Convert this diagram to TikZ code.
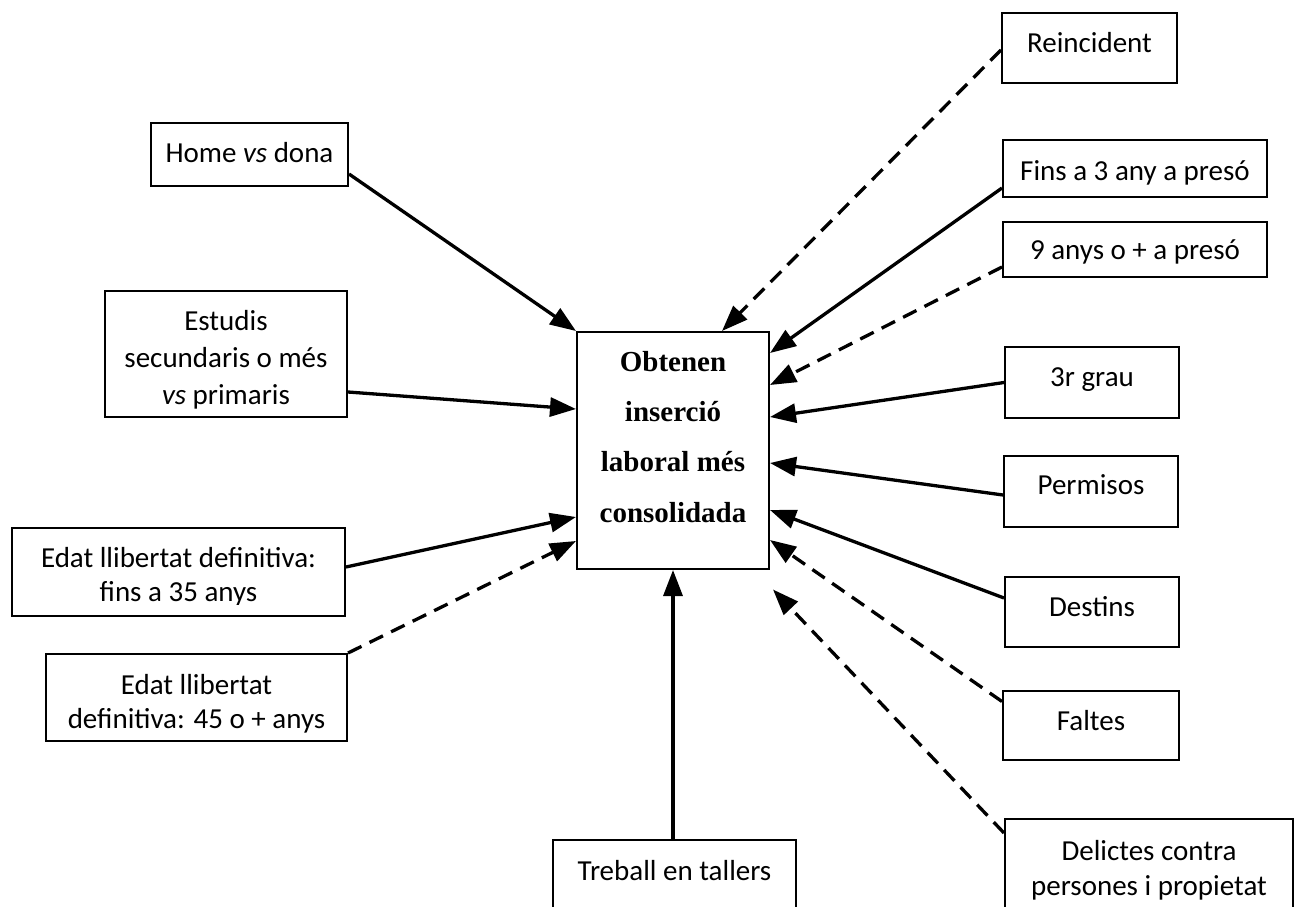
\documentclass[tikz,border=0pt]{standalone}
\usepackage{fontspec}
\setmainfont{Carlito}
\newfontfamily\tnrfont{Liberation Serif}
\usetikzlibrary{arrows.meta,calc}
\begin{document}
\begin{tikzpicture}[x=1pt,y=-1pt,
  box/.style n args={2}{draw, line width=2pt, minimum width=#1, minimum height=#2, inner sep=0pt},
  lbl/.style={anchor=base, align=center, inner sep=0pt, font=\fontsize{29}{35}\selectfont},
  link/.style={line width=3.3pt, -{Triangle[length=26pt,width=19pt]}},
  dlink/.style={link, dash pattern=on 15pt off 9pt}]
\fill[white] (0,0) rectangle (1296,907);
\useasboundingbox (0,0) rectangle (1296,907);
% boxes
\node[box={192pt}{237pt}] (c) at (673,450.5) {};
\node[box={197pt}{63pt}] (hd) at (249.5,154.5) {};
\node[box={242pt}{126pt}] (est) at (226,354) {};
\node[box={333pt}{88pt}] (e35) at (178.5,572) {};
\node[box={301pt}{87pt}] (e45) at (196.5,697.5) {};
\node[box={243pt}{90pt}] (tr) at (674.5,885) {};
\node[box={288pt}{111pt}] (del) at (1149,874.5) {};
\node[box={176pt}{69pt}] (fal) at (1091,725.5) {};
\node[box={174pt}{70pt}] (des) at (1092,612) {};
\node[box={174pt}{71pt}] (per) at (1091,491.5) {};
\node[box={174pt}{71pt}] (grau) at (1092,382.5) {};
\node[box={264pt}{55pt}] (nou) at (1135,249.5) {};
\node[box={264pt}{57pt}] (fins) at (1135,168.5) {};
\node[box={175pt}{70pt}] (rei) at (1089.5,48) {};
% texts (multi-line nodes are placed at the baseline of their last line)
\node[lbl, font=\tnrfont\bfseries\fontsize{29}{50.3}\selectfont] (ct) at (673,522) {Obtenen\\inserció\\laboral més\\consolidada};
\node[lbl] (hdt) at (249.5,162) {Home \textit{vs} dona};
\node[lbl, font=\fontsize{29}{37}\selectfont] (estt) at (226,404) {Estudis\\secundaris o més\\\textit{vs} primaris};
\begin{scope}
\clip (e35.north west) rectangle ($(e35.south east)+(0,-13)$);
\node[lbl, font=\fontsize{29}{34.5}\selectfont] (e35t) at (178.5,601.5) {Edat llibertat definitiva:\\fins a 35 anys};
\end{scope}
\node[lbl, font=\fontsize{29}{34}\selectfont] (e45t) at (196.5,728) {Edat llibertat\\definitiva: 45 o + anys};
\node[lbl] (trt) at (674.5,880) {Treball en tallers};
\node[lbl] (delt) at (1149,895) {Delictes contra\\persones i propietat};
\node[lbl] (falt) at (1091,730) {Faltes};
\node[lbl] (dest) at (1092,616) {Destins};
\node[lbl] (pert) at (1091,494) {Permisos};
\node[lbl] (graut) at (1092,386) {3r grau};
\node[lbl] (nout) at (1135,259) {9 anys o + a presó};
\node[lbl] (finst) at (1135,180) {Fins a 3 any a presó};
\node[lbl] (reit) at (1089.5,53) {Reincident};
% connectors
\draw[link] ($(hd.east)+(0,19.5)$) -- (c.north west);
\draw[link] ($(est.east)+(0,38)$) -- ($(c.west)+(0,-41.5)$);
\draw[link] ($(e35.east)+(0,-5)$) -- ($(c.west)+(0,66.5)$);
\draw[dlink] (e45.north east) -- ($(c.west)+(0,90.5)$);
\draw[link] (tr.north -| c.south) -- (c.south);
\draw[dlink] ($(rei.west)+(0,2)$) -- ($(c.north)+(49,0)$);
\draw[link] ($(fins.west)+(0,19.5)$) -- ($(c.east)+(0,-97.5)$);
\draw[dlink] ($(nou.west)+(0,17.5)$) -- ($(c.east)+(0,-65.5)$);
\draw[link] (grau.west) -- ($(c.east)+(0,-33.5)$);
\draw[link] ($(per.west)+(0,3.5)$) -- ($(c.east)+(0,12.5)$);
\draw[link] ($(des.west)+(0,-14)$) -- ($(c.east)+(0,59.5)$);
\draw[dlink] ($(fal.west)+(0,-24)$) -- ($(c.east)+(0,89.5)$);
\draw[dlink] ($(del.west)+(0,-41.5)$) -- ($(c.east)+(3,139)$);
\end{tikzpicture}
\end{document}
